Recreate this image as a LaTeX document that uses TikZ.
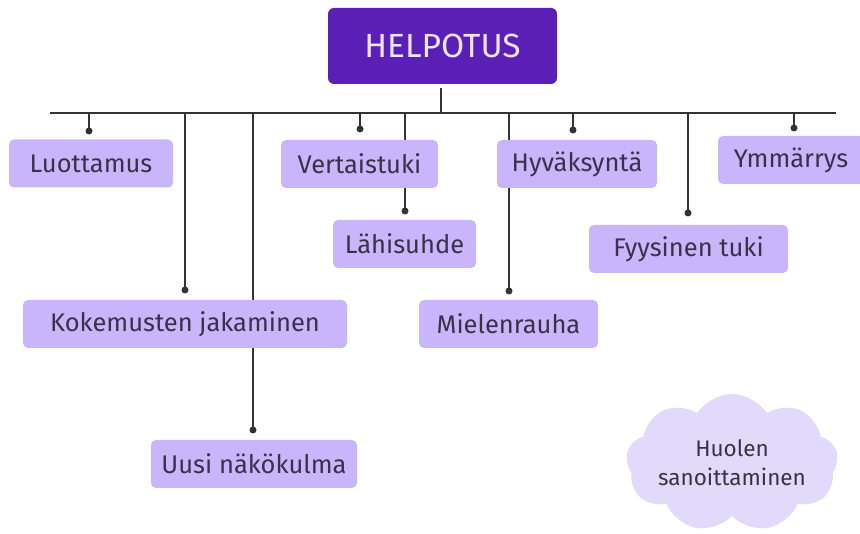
\documentclass[tikz,border=0pt]{standalone}
\usepackage{fontspec}
\setmainfont{Fira Sans}
\usetikzlibrary{shapes.symbols}
\definecolor{boxc}{HTML}{C9B5FB}
\definecolor{headc}{HTML}{5A1FB5}
\definecolor{headtxt}{HTML}{EDE4FF}
\definecolor{txtc}{HTML}{3B3048}
\definecolor{linec}{HTML}{333333}
\definecolor{cloudc}{HTML}{E1DAFB}
\tikzset{
  box/.style={fill=boxc, rounded corners=5pt, text=txtc, inner sep=0pt,
    minimum height=48pt, font=\fontsize{25.5}{30}\selectfont},
  head/.style={fill=headc, rounded corners=6pt, text=headtxt, inner sep=0pt,
    minimum width=229pt, minimum height=76pt, font=\fontsize{33.5}{38}\selectfont},
  dotn/.style={circle, fill=linec, inner sep=0pt, minimum size=7pt},
  conn/.style={draw=linec, line width=1.8pt},
  cloudn/.style={cloud, cloud puffs=9, cloud puff arc=115, cloud ignores aspect,
    fill=cloudc, minimum width=212pt, minimum height=138pt, inner sep=0pt,
    text=txtc, align=center, font=\fontsize{22.5}{29}\selectfont}
}
\begin{document}
\begin{tikzpicture}[x=1pt,y=-1pt]
\useasboundingbox (0,0) rectangle (860,534);
% bus coordinates
\coordinate (top) at (441,88);
\coordinate (busL) at (50,113);
\coordinate (busR) at (836,113);
\coordinate (busM) at (441,113);
\coordinate (b1) at (89,113);
\coordinate (b2) at (185,113);
\coordinate (b3) at (253,113);
\coordinate (b4) at (360,113);
\coordinate (b5) at (405,113);
\coordinate (b6) at (509,113);
\coordinate (b7) at (573,113);
\coordinate (b8) at (688,113);
\coordinate (b9) at (794,113);
% dots
\node[dotn] (d1) at (89,131) {};
\node[dotn] (d2) at (185,290) {};
\node[dotn] (d3) at (253,430) {};
\node[dotn] (d4) at (360,129) {};
\node[dotn] (d5) at (405,211) {};
\node[dotn] (d6) at (509,291) {};
\node[dotn] (d7) at (573,130) {};
\node[dotn] (d8) at (688,213) {};
\node[dotn] (d9) at (794,128) {};
% lines
\draw[conn] (top) -- (busM);
\draw[conn] (busL) -- (busR);
\foreach \i in {1,...,9} {\draw[conn] (b\i) -- (d\i.center);}
% head
\node[head] (helpotus) at (442.5,46) {HELPOTUS};
% boxes
\node[box, minimum width=164pt] (luottamus) at (91,163.5) {Luottamus};
\node[box, minimum width=324pt] (kokemusten) at (185,324) {Kokemusten jakaminen};
\node[box, minimum width=206pt] (uusi) at (254,464) {Uusi näkökulma};
\node[box, minimum width=157pt] (vertaistuki) at (359.5,164) {Vertaistuki};
\node[box, minimum width=143pt] (lahisuhde) at (404.5,244) {Lähisuhde};
\node[box, minimum width=179pt] (mielenrauha) at (508.5,324) {Mielenrauha};
\node[box, minimum width=160pt] (hyvaksynta) at (577,164) {Hyväksyntä};
\node[box, minimum width=199pt] (fyysinen) at (688.5,249) {Fyysinen tuki};
\node[box, minimum width=146pt] (ymmarrys) at (791,160) {Ymmärrys};
% cloud
\node[cloudn] (huoli) at (732,463) {Huolen\\sanoittaminen};
\end{tikzpicture}
\end{document}
